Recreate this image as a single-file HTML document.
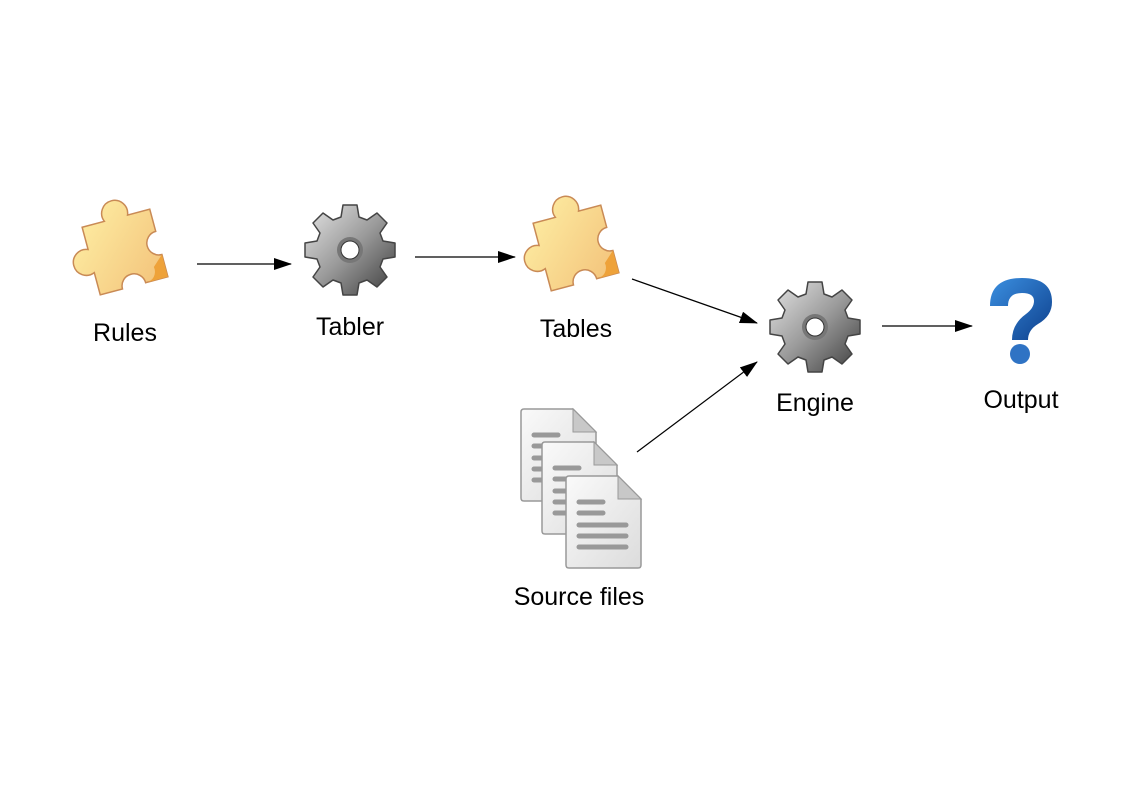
<!DOCTYPE html>
<html><head><meta charset="utf-8"><style>
html,body{margin:0;padding:0;background:#fff}
svg{display:block}
text{font-family:"Liberation Sans",Arial,sans-serif;font-size:25px;fill:#000;text-anchor:middle}
</style></head><body>
<svg width="1123" height="794" viewBox="0 0 1123 794" xmlns="http://www.w3.org/2000/svg">
<defs>
<marker id="ah" markerWidth="18" markerHeight="12" refX="17" refY="6" orient="auto" markerUnits="userSpaceOnUse">
<path d="M0,0 L18,6 L0,12 z" fill="#000"/></marker>
<linearGradient id="gg" x1="0" y1="0" x2="1" y2="1">
<stop offset="0" stop-color="#e6e6e6"/><stop offset="0.5" stop-color="#9a9a9a"/><stop offset="1" stop-color="#3c3c3c"/></linearGradient>
<linearGradient id="pg" x1="0" y1="0" x2="1" y2="1">
<stop offset="0" stop-color="#fff3a8"/><stop offset="1" stop-color="#f3c27a"/></linearGradient>
<linearGradient id="dg" x1="0" y1="0" x2="1" y2="1">
<stop offset="0" stop-color="#fafafa"/><stop offset="1" stop-color="#dcdcdc"/></linearGradient>
<linearGradient id="qg" x1="0" y1="0" x2="1" y2="1">
<stop offset="0" stop-color="#3b8fe0"/><stop offset="1" stop-color="#0d3f8c"/></linearGradient>
<g id="gear">
<path d="M-7,-45 L7,-45 L9,-33 L17,-30 L27,-37 L37,-27 L30,-17 L33,-9 L45,-7 L45,7 L33,9 L30,17 L37,27 L27,37 L17,30 L9,33 L7,45 L-7,45 L-9,33 L-17,30 L-27,37 L-37,27 L-30,17 L-33,9 L-45,7 L-45,-7 L-33,-9 L-30,-17 L-37,-27 L-27,-37 L-17,-30 L-9,-33 Z" fill="url(#gg)" stroke="#444" stroke-width="1.5" stroke-linejoin="round"/>
<circle r="13" fill="#777"/><circle r="9" fill="#fff" stroke="#333" stroke-width="1"/>
</g>
<g id="puzzle">
<g transform="rotate(-15)">
<path d="M-35,-35 L-12,-35 A13,13 0 1 1 12,-35 L35,-35 L35,-12 A11,11 0 1 0 35,12 L35,35 L12,35 A11,11 0 1 0 -12,35 L-35,35 L-35,12 A13,13 0 1 1 -35,-12 Z" fill="url(#pg)" stroke="#c98a55" stroke-width="1.5"/>
<path d="M35,12 L35,35 L12,35 A11,11 0 0 0 24,22 Z" fill="#eea23a"/>
</g>
</g>
<g id="doc">
<path d="M3,0 L52,0 L75,23 L75,89 Q75,92 72,92 L3,92 Q0,92 0,89 L0,3 Q0,0 3,0 Z" fill="url(#dg)" stroke="#999" stroke-width="1.5"/>
<path d="M52,0 L52,23 L75,23 Z" fill="#c8c8c8" stroke="#999" stroke-width="1"/>
<g stroke="#999" stroke-width="5" stroke-linecap="round">
<line x1="13" y1="26" x2="37" y2="26"/><line x1="13" y1="37" x2="37" y2="37"/>
<line x1="13" y1="49" x2="60" y2="49"/><line x1="13" y1="60" x2="60" y2="60"/><line x1="13" y1="71" x2="60" y2="71"/></g>
</g>
</defs>

<use href="#puzzle" x="125" y="252"/>
<use href="#puzzle" x="576" y="248"/>
<use href="#gear" x="350" y="250"/>
<use href="#gear" x="815" y="327"/>
<use href="#doc" x="521" y="409"/>
<use href="#doc" x="542" y="442"/>
<use href="#doc" x="566" y="476"/>

<g transform="translate(1020,318)">
<path d="M-30,-12 Q-30,-40 2,-40 Q32,-40 32,-16 Q32,-2 18,6 Q8,12 8,22 L-8,22 Q-8,6 6,-4 Q14,-10 14,-17 Q14,-25 2,-25 Q-12,-25 -12,-12 Z" fill="url(#qg)"/>
<circle cx="0" cy="36" r="10" fill="#2f73c4"/>
</g>

<g stroke="#000" stroke-width="1.2" fill="none">
<line x1="197" y1="264" x2="291" y2="264" marker-end="url(#ah)"/>
<line x1="415" y1="257" x2="515" y2="257" marker-end="url(#ah)"/>
<line x1="632" y1="279" x2="757" y2="323" marker-end="url(#ah)"/>
<line x1="637" y1="452" x2="757" y2="362" marker-end="url(#ah)"/>
<line x1="882" y1="326" x2="972" y2="326" marker-end="url(#ah)"/>
</g>

<text x="125" y="341">Rules</text>
<text x="350" y="335">Tabler</text>
<text x="576" y="337">Tables</text>
<text x="815" y="411">Engine</text>
<text x="1021" y="408">Output</text>
<text x="579" y="605">Source files</text>
</svg>
</body></html>
